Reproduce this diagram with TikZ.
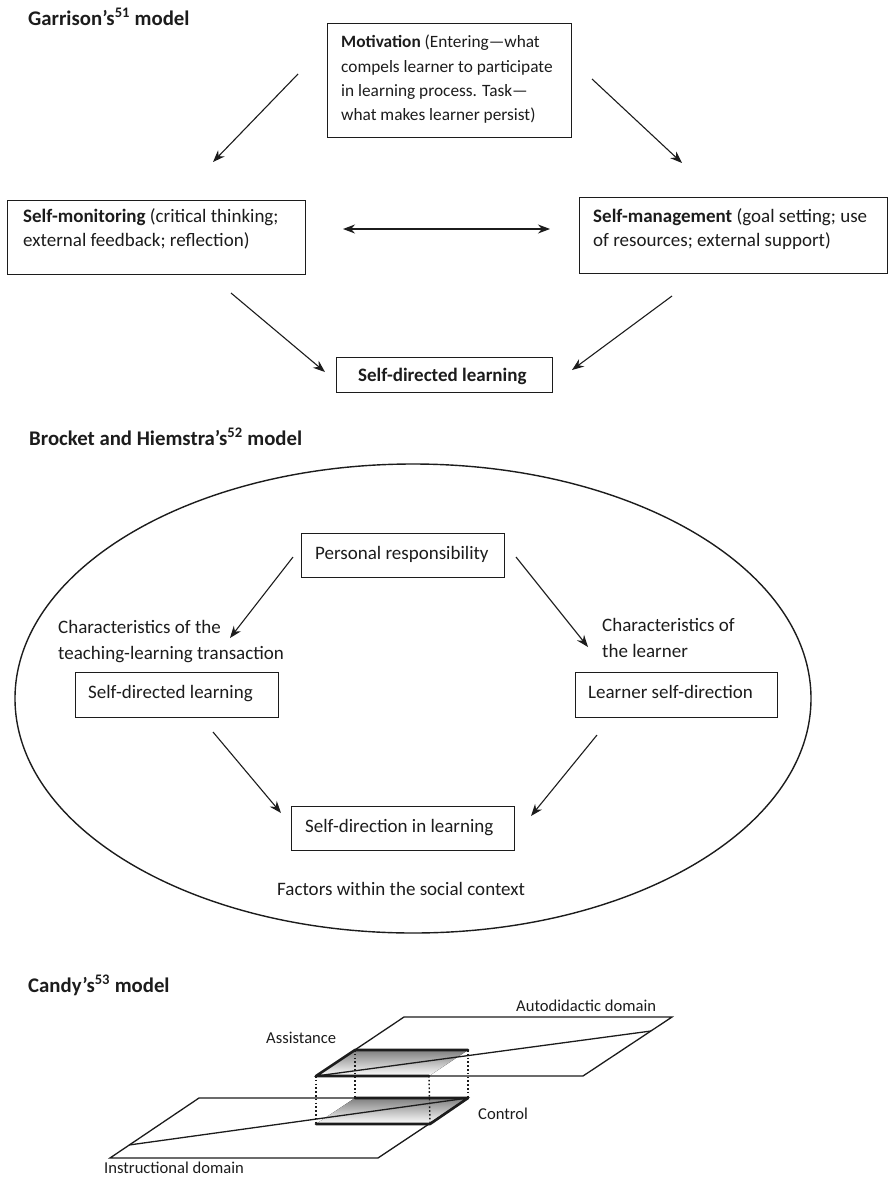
\documentclass[tikz,border=0pt]{standalone}
\usepackage{fontspec}
\setmainfont{Carlito}
\usetikzlibrary{arrows.meta}
\definecolor{ink}{HTML}{1C1C1C}
\definecolor{shade}{HTML}{B8B8B8}
\tikzset{
  boxst/.style={draw=ink, line width=1.1pt, rectangle, inner sep=0pt, anchor=north west},
  gtxt/.style={anchor=base west, inner sep=0pt, text=ink, font=\fontsize{17.3}{20}\selectfont},
  mtxt/.style={anchor=base west, inner sep=0pt, text=ink, font=\fontsize{19}{22}\selectfont},
  ctxt/.style={anchor=base west, inner sep=0pt, text=ink, font=\fontsize{16.6}{19}\selectfont},
  ttl/.style={anchor=base west, inner sep=0pt, text=ink, font=\fontsize{20.8}{24}\selectfont\bfseries},
  arr/.style={draw=ink, line width=1.1pt, -{Stealth[length=12pt,width=9pt]}},
  darr/.style={draw=ink, line width=1.1pt, {Stealth[length=12pt,width=9pt]}-{Stealth[length=12pt,width=9pt]}},
  plane/.style={draw=ink, line width=1.3pt, line join=miter},
  thickedge/.style={draw=ink, line width=2.6pt, line cap=round, line join=round},
  dots/.style={draw=ink, line width=1.4pt, dash pattern=on 1.6pt off 2.2pt},
}
\begin{document}
\begin{tikzpicture}[x=1pt, y=-1pt]
\useasboundingbox (0,0) rectangle (889,1178);

% ---------------- Garrison ----------------
\node[ttl] (t1) at (28,25) {Garrison’s\textsuperscript{51} model};

\node[boxst, minimum width=244pt, minimum height=114pt] (mot) at (327,23) {};
\node[gtxt] (mot1) at (341,47) {\textbf{Motivation} (Entering—what};
\node[gtxt] (mot2) at (341,72) {compels learner to participate};
\node[gtxt] (mot3) at (341,96) {in learning process. Task—};
\node[gtxt] (mot4) at (341,120) {what makes learner persist)};

\node[boxst, minimum width=298pt, minimum height=74pt] (smon) at (7,200) {};
\node[mtxt] (smon1) at (23,222) {\textbf{Self-monitoring} (critical thinking;};
\node[mtxt] (smon2) at (23,246) {external feedback; reflection)};

\node[boxst, minimum width=308pt, minimum height=76pt] (sman) at (579,197) {};
\node[mtxt] (sman1) at (593,222) {\textbf{Self-management} (goal setting; use};
\node[mtxt] (sman2) at (593,246) {of resources; external support)};

\node[boxst, minimum width=216pt, minimum height=35pt] (sdl) at (336,357) {};
\node[mtxt] (sdlT) at (358,381) {\textbf{Self-directed learning}};

\coordinate (g1s) at (298,74);  \coordinate (g1e) at (213,162);
\coordinate (g2s) at (592,79);  \coordinate (g2e) at (682,163);
\coordinate (g3s) at (343,229); \coordinate (g3e) at (550,229);
\coordinate (g4s) at (231,293); \coordinate (g4e) at (325,372);
\coordinate (g5s) at (672,296); \coordinate (g5e) at (572,370);
\draw[arr] (g1s) -- (g1e);
\draw[arr] (g2s) -- (g2e);
\draw[darr] (g3s) -- (g3e);
\draw[arr] (g4s) -- (g4e);
\draw[arr] (g5s) -- (g5e);

% ---------------- Brocket and Hiemstra ----------------
\node[ttl] (t2) at (29,445) {Brocket and Hiemstra’s\textsuperscript{52} model};

\draw[draw=ink, line width=1.4pt] (413,698.5) ellipse [x radius=398pt, y radius=234.5pt];

\node[boxst, minimum width=203pt, minimum height=44pt] (pr) at (301,533) {};
\node[mtxt] (prT) at (315,559) {Personal responsibility};

\node[mtxt] (cl1) at (58,633) {Characteristics of the};
\node[mtxt] (cl2) at (58,659) {teaching-learning transaction};
\node[mtxt] (cr1) at (602,631) {Characteristics of};
\node[mtxt] (cr2) at (602,657) {the learner};

\node[boxst, minimum width=203pt, minimum height=45pt] (bsdl) at (75,672) {};
\node[mtxt] (bsdlT) at (88,698) {Self-directed learning};

\node[boxst, minimum width=202pt, minimum height=45pt] (lsd) at (575,672) {};
\node[mtxt] (lsdT) at (588,698) {Learner self-direction};

\node[boxst, minimum width=223pt, minimum height=44pt] (sdil) at (291,806) {};
\node[mtxt] (sdilT) at (305,832) {Self-direction in learning};

\node[mtxt] (fac) at (277,895) {Factors within the social context};

\coordinate (b1s) at (293,557); \coordinate (b1e) at (230,638);
\coordinate (b2s) at (516,557); \coordinate (b2e) at (588,647);
\coordinate (b3s) at (213,732); \coordinate (b3e) at (281,813);
\coordinate (b4s) at (597,735); \coordinate (b4e) at (531,816);
\draw[arr] (b1s) -- (b1e);
\draw[arr] (b2s) -- (b2e);
\draw[arr] (b3s) -- (b3e);
\draw[arr] (b4s) -- (b4e);

% ---------------- Candy ----------------
\node[ttl] (t3) at (28,992) {Candy’s\textsuperscript{53} model};

% upper (autodidactic) plane
\coordinate (A1) at (316,1076); \coordinate (A2) at (404,1017);
\coordinate (A3) at (672,1017); \coordinate (A4) at (583,1076);
\coordinate (Ad) at (651,1031);
% upper shaded
\coordinate (U1) at (316,1076); \coordinate (U2) at (355,1050);
\coordinate (U3) at (468,1050); \coordinate (U4) at (429,1076);
% lower (instructional) plane
\coordinate (B1) at (110,1158); \coordinate (B2) at (199,1098);
\coordinate (B3) at (468,1098); \coordinate (B4) at (378,1158);
\coordinate (Bd) at (129,1145);
% lower shaded
\coordinate (L1) at (316,1124); \coordinate (L2) at (355,1098);
\coordinate (L3) at (468,1098); \coordinate (L4) at (430,1124);

\fill[shade] (U1) -- (U2) -- (U3) -- (U4) -- cycle;
\fill[shade] (L1) -- (L2) -- (L3) -- (L4) -- cycle;

\draw[plane] (A1) -- (A2) -- (A3) -- (A4) -- cycle;
\draw[plane] (A1) -- (Ad);
\draw[plane] (B1) -- (B2) -- (B3) -- (B4) -- cycle;
\draw[plane] (Bd) -- (B3);

\draw[thickedge] (U4) -- (U1) -- (U2) -- (U3);
\draw[thickedge] (L2) -- (L3) -- (L4) -- (L1);

\draw[dots] (U1) -- (L1);
\draw[dots] (U2) -- (L2);
\draw[dots] (U4) -- (L4);
\draw[dots] (U3) -- (L3);

\node[ctxt] (auto) at (516,1011) {Autodidactic domain};
\node[ctxt] (assi) at (266,1043) {Assistance};
\node[ctxt] (ctrl) at (478,1119) {Control};
\node[ctxt] (inst) at (104,1173) {Instructional domain};

\end{tikzpicture}
\end{document}
